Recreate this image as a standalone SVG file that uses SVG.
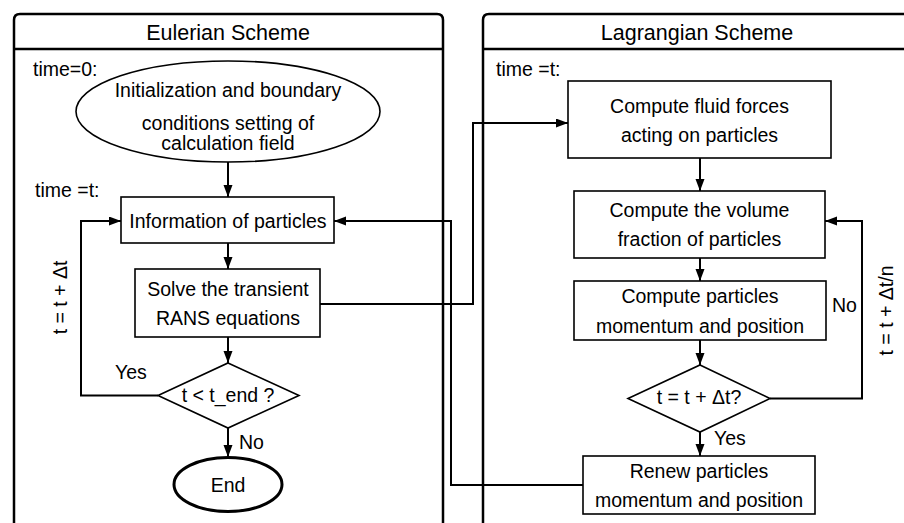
<svg xmlns="http://www.w3.org/2000/svg" width="904" height="523" viewBox="0 0 904 523">
<style>
text{font-family:"Liberation Sans",Arial,sans-serif;font-size:19.5px;fill:#000}
.title{font-size:21.5px}
.c{text-anchor:middle}
.panel{fill:none;stroke:#000;stroke-width:2.5}
.box{fill:#fff;stroke:#000;stroke-width:1.6}
.end{fill:#fff;stroke:#000;stroke-width:3}
.ln{fill:none;stroke:#000;stroke-width:2}
</style>
<defs>
<marker id="ah" markerUnits="userSpaceOnUse" markerWidth="13" markerHeight="10" refX="12" refY="4.5" orient="auto">
<path d="M0,0 L12,4.5 L0,9 z" fill="#000"/>
</marker>
</defs>
<rect width="904" height="523" fill="#fff"/>
<g id="panel-euler">
<path class="panel" d="M14,530 V20 Q14,14 20,14 H437 Q443,14 443,20 V530"/>
<line class="panel" x1="14" y1="49" x2="443" y2="49"/>
<text class="title c" x="228" y="40">Eulerian Scheme</text>
<text x="33" y="76">time=0:</text>
<text x="35" y="196.5">time =t:</text>
</g>
<g id="panel-lagrange">
<path class="panel" d="M483,530 V20 Q483,14 489,14 H910"/>
<line class="panel" x1="483" y1="49" x2="910" y2="49"/>
<text class="title c" x="697" y="40">Lagrangian Scheme</text>
<text x="496" y="76">time =t:</text>
</g>
<g id="connectors">
<line class="ln" x1="228" y1="162" x2="228" y2="197" marker-end="url(#ah)"/>
<line class="ln" x1="228" y1="243" x2="228" y2="269" marker-end="url(#ah)"/>
<line class="ln" x1="228" y1="337" x2="228" y2="363" marker-end="url(#ah)"/>
<line class="ln" x1="228" y1="428" x2="228" y2="457" marker-end="url(#ah)"/>
<polyline class="ln" points="158,395.5 81,395.5 81,221 121,221" marker-end="url(#ah)"/>
<polyline class="ln" points="320,304 473,304 473,123 568,123" marker-end="url(#ah)"/>
<polyline class="ln" points="583,485 451,485 451,221 334,221" marker-end="url(#ah)"/>
<line class="ln" x1="700" y1="158" x2="700" y2="191" marker-end="url(#ah)"/>
<line class="ln" x1="700" y1="258" x2="700" y2="281" marker-end="url(#ah)"/>
<line class="ln" x1="700" y1="340" x2="700" y2="365" marker-end="url(#ah)"/>
<line class="ln" x1="700" y1="432" x2="700" y2="456" marker-end="url(#ah)"/>
<polyline class="ln" points="770,398.5 862,398.5 862,221 825,221" marker-end="url(#ah)"/>
<text x="115" y="379">Yes</text>
<text x="239" y="449">No</text>
<text x="832" y="312">No</text>
<text x="714" y="445">Yes</text>
<text class="c" transform="translate(66.5,297.5) rotate(-90)">t = t + Δt</text>
<text class="c" transform="translate(893,310.5) rotate(-90)">t = t + Δt/n</text>
</g>
<g id="init">
<ellipse class="box" cx="228" cy="111.5" rx="152" ry="50.5"/>
<text class="c" x="228" y="96.5">Initialization and boundary</text>
<text class="c" x="228" y="130">conditions setting of</text>
<text class="c" x="228" y="150">calculation field</text>
</g>
<g id="info">
<rect class="box" x="121" y="197" width="213" height="46"/>
<text class="c" x="228" y="228">Information of particles</text>
</g>
<g id="solve">
<rect class="box" x="135" y="269" width="185" height="68"/>
<text class="c" x="228" y="295.5">Solve the transient</text>
<text class="c" x="228" y="325">RANS equations</text>
</g>
<g id="check-end">
<polygon class="box" points="228,363 299,395.5 228,428 158,395.5"/>
<text class="c" x="228" y="402">t &lt; t_end ?</text>
</g>
<g id="end">
<ellipse class="end" cx="228" cy="484.5" rx="54" ry="27"/>
<text class="c" x="228" y="492">End</text>
</g>
<g id="forces">
<rect class="box" x="568" y="81" width="263" height="77"/>
<text class="c" x="699.5" y="113">Compute fluid forces</text>
<text class="c" x="699.5" y="141.5">acting on particles</text>
</g>
<g id="volume">
<rect class="box" x="574" y="191" width="251" height="67"/>
<text class="c" x="699.5" y="216.5">Compute the volume</text>
<text class="c" x="699.5" y="246">fraction of particles</text>
</g>
<g id="momentum">
<rect class="box" x="574" y="281" width="252" height="59"/>
<text class="c" x="700" y="303">Compute particles</text>
<text class="c" x="700" y="332.5">momentum and position</text>
</g>
<g id="check-step">
<polygon class="box" points="700,365 770,398.5 700,432 628,398.5"/>
<text class="c" x="699" y="404">t = t + Δt?</text>
</g>
<g id="renew">
<rect class="box" x="583" y="456" width="232" height="58"/>
<text class="c" x="699" y="478">Renew particles</text>
<text class="c" x="699" y="506.5">momentum and position</text>
</g>
</svg>
